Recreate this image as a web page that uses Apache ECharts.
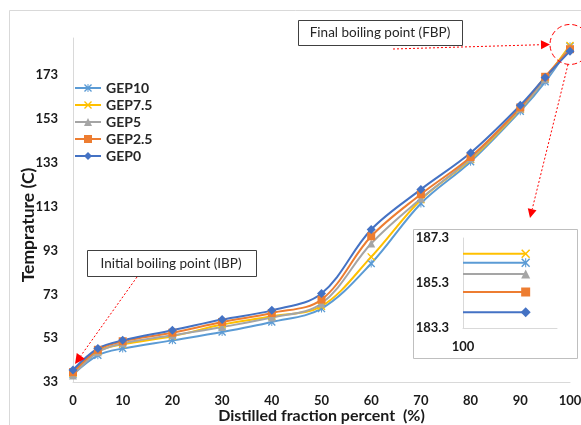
<!DOCTYPE html>
<html>
<head>
<meta charset="utf-8">
<script src="https://cdn.jsdelivr.net/npm/echarts@6/dist/echarts.min.js"></script>
<style>
  html, body { margin: 0; padding: 0; background: #fff; }
  #chart { width: 581px; height: 425px; }
</style>
</head>
<body>
<div id="chart"></div>
<script>
// distilled fraction (%) and temperatures per blend
const xValues = [0, 5, 10, 20, 30, 40, 50, 60, 70, 80, 90, 95, 100];
const gep10 = [36.5, 45.2, 48.3, 52.0, 55.8, 60.4, 66.5, 87.1, 114.5, 133.5, 156.6, 170.0, 186.2];
const gep75 = [37.0, 47.0, 50.2, 53.9, 59.2, 63.0, 67.6, 90.1, 116.2, 134.5, 157.5, 171.4, 186.6];
const gep5 = [36.0, 46.6, 50.7, 54.3, 58.1, 62.4, 68.8, 96.2, 116.7, 135.0, 157.8, 171.2, 185.7];
const gep25 = [37.5, 47.7, 51.6, 55.5, 60.4, 64.5, 70.6, 99.5, 118.7, 135.7, 158.3, 172.3, 184.9];
const gep0 = [38.5, 48.3, 52.0, 56.6, 61.5, 65.7, 73.4, 102.6, 120.9, 137.6, 159.3, 172.0, 184.0];
const seriesNames = ["GEP10", "GEP7.5", "GEP5", "GEP2.5", "GEP0"];
const insetXLabel = "100";

const FONT = "Lato";
const colors = ["#5B9BD5", "#FFC000", "#A5A5A5", "#ED7D31", "#4472C4"];
const xPath = "path://M0,1.2 L1.2,0 L5,3.8 L8.8,0 L10,1.2 L6.2,5 L10,8.8 L8.8,10 L5,6.2 L1.2,10 L0,8.8 L3.8,5 Z";
const starPath = xPath + " M4.4,0 L5.6,0 L5.6,10 L4.4,10 Z";
const symbols = [starPath, xPath, "triangle", "rect", "diamond"];
const sizes = [8, 8, 8, 8, 9];
const allData = [gep10, gep75, gep5, gep25, gep0];

const chart = echarts.init(document.getElementById("chart"));

const mainSeries = allData.map(function (vals, i) {
  return {
    name: seriesNames[i],
    type: "line",
    smooth: 0.35,
    symbol: symbols[i],
    symbolSize: sizes[i],
    color: colors[i],
    lineStyle: { width: 2, color: colors[i] },
    itemStyle: { color: colors[i] },
    data: xValues.map(function (x, k) { return [x, vals[k]]; }),
  };
});

const last = xValues.length - 1;
const insetSeries = allData.map(function (vals, i) {
  return {
    name: seriesNames[i],
    type: "line",
    xAxisIndex: 1,
    yAxisIndex: 1,
    symbol: symbols[i],
    symbolSize: sizes[i] + 1,
    lineStyle: { width: 2, color: colors[i] },
    itemStyle: { color: colors[i] },
    data: [
      { value: [0, vals[last]], symbol: "none" },
      { value: [2, vals[last]] },
    ],
  };
});

const boldLabel = { fontFamily: FONT, fontWeight: "bold", fontSize: 13, color: "#1a1a1a" };

chart.setOption({
  animation: false,
  backgroundColor: "#fff",
  legend: {
    data: seriesNames,
    orient: "vertical",
    left: 74,
    top: 81,
    padding: 0,
    itemWidth: 26,
    itemHeight: 10,
    itemGap: 3,
    textStyle: { fontFamily: FONT, fontWeight: "bold", fontSize: 14, color: "#262626" },
  },
  grid: [
    { left: 73, right: 11, top: 38, bottom: 43, outerBoundsMode: "none" },
    { left: 463, right: 24, top: 238, bottom: 97, outerBoundsMode: "none" },
  ],
  xAxis: [
    {
      type: "value",
      min: 0,
      max: 100,
      interval: 10,
      name: "Distilled fraction percent  (%)",
      nameLocation: "middle",
      nameGap: 26,
      nameMoveOverlap: false,
      nameTextStyle: { fontFamily: FONT, fontWeight: "bold", fontSize: 16, color: "#1a1a1a" },
      axisLine: { lineStyle: { color: "#d9d9d9" } },
      axisTick: { show: false },
      splitLine: { show: false },
      axisLabel: Object.assign({ margin: 12 }, boldLabel),
    },
    {
      type: "value",
      gridIndex: 1,
      min: 0,
      max: 3,
      interval: 3,
      axisLine: { lineStyle: { color: "#d9d9d9" } },
      axisTick: { show: false },
      splitLine: { show: false },
      axisLabel: Object.assign({
        margin: 12,
        formatter: function (v) { return v === 0 ? insetXLabel : ""; },
      }, boldLabel),
    },
  ],
  yAxis: [
    {
      type: "value",
      min: 33,
      max: 190,
      interval: 20,
      name: "Temprature (C)",
      nameLocation: "middle",
      nameGap: 36,
      nameMoveOverlap: false,
      nameTextStyle: { fontFamily: FONT, fontWeight: "bold", fontSize: 17.5, color: "#1a1a1a", padding: [0, 30, 0, 0] },
      axisLine: { show: true, lineStyle: { color: "#d9d9d9" } },
      axisTick: { show: false },
      splitLine: { show: false },
      axisLabel: Object.assign({ margin: 15, showMaxLabel: false }, boldLabel),
    },
    {
      type: "value",
      gridIndex: 1,
      min: 183.3,
      max: 187.3,
      interval: 2,
      axisLine: { show: true, lineStyle: { color: "#d9d9d9" } },
      axisTick: { show: false },
      splitLine: { show: false },
      axisLabel: Object.assign({ margin: 14 }, boldLabel),
    },
  ],
  series: mainSeries.concat(insetSeries),
});

// annotations
function arrow(from, to, len, half) {
  const dx = to[0] - from[0], dy = to[1] - from[1];
  const d = Math.sqrt(dx * dx + dy * dy);
  const ux = dx / d, uy = dy / d;
  const bx = to[0] - ux * len, by = to[1] - uy * len;
  return [
    {
      type: "line",
      shape: { x1: from[0], y1: from[1], x2: bx, y2: by },
      style: { stroke: "#ff0000", lineWidth: 1, lineDash: [2, 2] },
      z: 100,
    },
    {
      type: "polygon",
      shape: { points: [to, [bx - uy * half, by + ux * half], [bx + uy * half, by - ux * half]] },
      style: { fill: "#ff0000" },
      z: 100,
    },
  ];
}

const ibp = chart.convertToPixel({ gridIndex: 0 }, [xValues[0], gep0[0]]);
const fbp = chart.convertToPixel({ gridIndex: 0 }, [xValues[last], gep75[last]]);
const r = 20;
const circle = [fbp[0], fbp[1] - 1];

let gfx = [
  {
    type: "rect",
    shape: { x: 9.5, y: 10.5, width: 700, height: 600 },
    style: { stroke: "#d9d9d9", fill: "none", lineWidth: 1 },
    z: -10,
  },
  {
    type: "rect",
    shape: { x: 413.5, y: 229.5, width: 164, height: 129 },
    style: { stroke: "#bfbfbf", fill: "#fff", lineWidth: 1 },
    z: -5,
  },
  {
    type: "rect",
    shape: { x: 298.5, y: 20.5, width: 164, height: 25 },
    style: { stroke: "#404040", fill: "#fff", lineWidth: 1 },
    z: 100,
  },
  {
    type: "text",
    x: 380, y: 33,
    style: { text: "Final boiling point (FBP)", font: "13.5px " + FONT, fill: "#262626", align: "center", verticalAlign: "middle" },
    z: 101,
  },
  {
    type: "rect",
    shape: { x: 87.5, y: 250.5, width: 169, height: 26 },
    style: { stroke: "#404040", fill: "#fff", lineWidth: 1 },
    z: 100,
  },
  {
    type: "text",
    x: 171, y: 264,
    style: { text: "Initial boiling point (IBP)", font: "13.5px " + FONT, fill: "#262626", align: "center", verticalAlign: "middle" },
    z: 101,
  },
  {
    type: "circle",
    shape: { cx: circle[0], cy: circle[1], r: r },
    style: { stroke: "#ff0000", fill: "none", lineWidth: 1, lineDash: [5, 3] },
    z: 100,
  },
];
gfx = gfx.concat(arrow([137, 277], [ibp[0] + 2, ibp[1] - 6], 10, 5));
gfx = gfx.concat(arrow([393, 49], [circle[0] - r, circle[1]], 9, 4.5));
gfx = gfx.concat(arrow([circle[0] - 2, circle[1] + r], [530, 218], 9, 4.5));

chart.setOption({ graphic: gfx });
</script>
</body>
</html>
